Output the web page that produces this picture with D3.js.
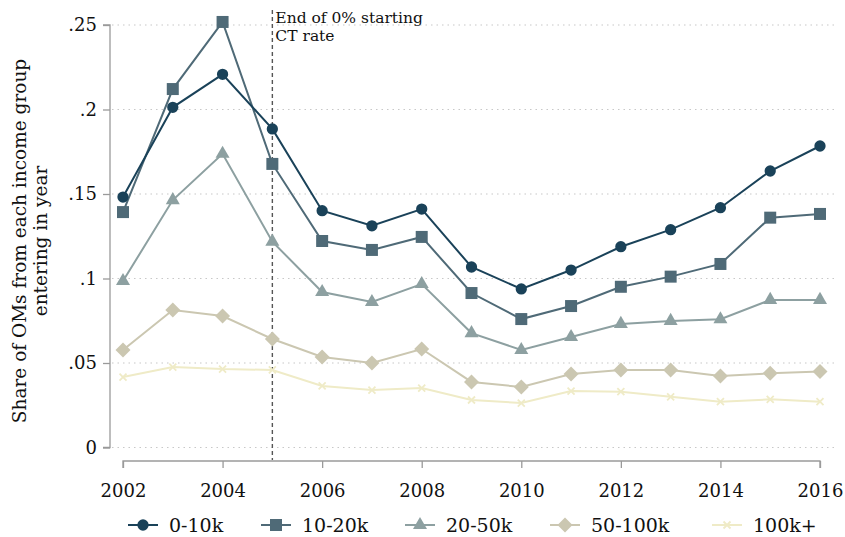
<!DOCTYPE html>
<html>
<head>
<meta charset="utf-8">
<script src="https://cdn.jsdelivr.net/npm/d3@7"></script>
<style>
  html, body { margin: 0; padding: 0; background: #fff; }
  svg { display: block; font-family: "DejaVu Serif", serif; }
</style>
</head>
<body>
<svg id="chart" width="845" height="537"></svg>
<script>
// ---- Data ----
const years = [2002, 2003, 2004, 2005, 2006, 2007, 2008, 2009, 2010, 2011, 2012, 2013, 2014, 2015, 2016];
const seriesNames = ["0-10k", "10-20k", "20-50k", "50-100k", "100k+"];
const inc0_10k    = [0.1482, 0.2013, 0.2208, 0.1885, 0.1401, 0.1312, 0.1411, 0.1068, 0.0938, 0.1050, 0.1188, 0.1289, 0.1419, 0.1636, 0.1784];
const inc10_20k   = [0.1393, 0.2121, 0.2518, 0.1678, 0.1222, 0.1169, 0.1246, 0.0914, 0.0760, 0.0837, 0.0951, 0.1011, 0.1086, 0.1360, 0.1382];
const inc20_50k   = [0.0985, 0.1464, 0.1738, 0.1218, 0.0920, 0.0861, 0.0967, 0.0677, 0.0577, 0.0654, 0.0731, 0.0749, 0.0759, 0.0873, 0.0873];
const inc50_100k  = [0.0577, 0.0814, 0.0778, 0.0642, 0.0536, 0.0500, 0.0583, 0.0388, 0.0358, 0.0435, 0.0459, 0.0459, 0.0423, 0.0439, 0.0449];
const inc100kplus = [0.0417, 0.0476, 0.0464, 0.0459, 0.0364, 0.0340, 0.0352, 0.0281, 0.0263, 0.0334, 0.0330, 0.0300, 0.0271, 0.0285, 0.0271];
const yTicks = [0, 0.05, 0.10, 0.15, 0.20, 0.25];
const yTickLabels = ["0", ".05", ".1", ".15", ".2", ".25"];
const xTicks = [2002, 2004, 2006, 2008, 2010, 2012, 2014, 2016];
const eventYear = 2005;
const annotation = ["End of 0% starting", "CT rate"];
const yTitle = ["Share of OMs from each income group", "entering in year"];

const colors = ["#1a4259", "#4f6a77", "#8da0a1", "#cbc7b1", "#efebc7"];
const shapes = ["circle", "square", "triangle", "diamond", "x"];
const allValues = [inc0_10k, inc10_20k, inc20_50k, inc50_100k, inc100kplus];
const series = seriesNames.map((name, i) => ({
  name, color: colors[i], shape: shapes[i],
  values: years.map((yr, j) => ({ year: yr, value: allValues[i][j] }))
}));

// ---- Layout ----
const svg = d3.select("#chart");
const x = d3.scaleLinear().domain([2002, 2016]).range([123, 820]);
const y = d3.scaleLinear().domain([0, 0.25]).range([447.5, 25]);
const plotLeft = 110, plotRight = 834;

// gridlines
svg.append("g").selectAll("line").data(yTicks).join("line")
  .attr("x1", plotLeft + 2).attr("x2", plotRight)
  .attr("y1", d => y(d)).attr("y2", d => y(d))
  .attr("stroke", "#c8c8c8").attr("stroke-width", 1.2)
  .attr("stroke-dasharray", "1.5,4");

// y axis
const yAxis = d3.axisLeft(y).tickValues(yTicks)
  .tickFormat((d, i) => yTickLabels[i]).tickSize(7).tickPadding(6);
const gy = svg.append("g").attr("transform", `translate(${plotLeft},0)`).call(yAxis);
gy.select(".domain").attr("stroke", "#9a9a9a").attr("stroke-width", 1.3)
  .attr("d", `M-7,${y(0.25)}H0V${y(0)}H-7`);
gy.selectAll(".tick line").attr("stroke", "#9a9a9a").attr("stroke-width", 1.3);
gy.selectAll(".tick text").attr("font-size", 18).attr("fill", "#111")
  .attr("font-family", "DejaVu Serif, serif");

// x axis
const xAxis = d3.axisBottom(x).tickValues(xTicks).tickFormat(d3.format("d"))
  .tickSize(7).tickPadding(16);
const gx = svg.append("g").attr("transform", `translate(0,461)`).call(xAxis);
gx.select(".domain").attr("stroke", "#9a9a9a").attr("stroke-width", 1.3)
  .attr("d", `M${x(2002)},7V0H${x(2016)}V7`);
gx.selectAll(".tick line").attr("stroke", "#9a9a9a").attr("stroke-width", 1.3);
gx.selectAll(".tick text").attr("font-size", 18).attr("fill", "#111")
  .attr("font-family", "DejaVu Serif, serif");

// y title
const yt = svg.append("text")
  .attr("transform", `translate(26,241) rotate(-90)`)
  .attr("text-anchor", "middle").attr("font-size", 18.5).attr("fill", "#111");
yt.append("tspan").attr("x", 0).attr("dy", 0).text(yTitle[0]);
yt.append("tspan").attr("x", 0).attr("dy", 21).text(yTitle[1]);

// event line
svg.append("line")
  .attr("x1", x(eventYear)).attr("x2", x(eventYear))
  .attr("y1", 10).attr("y2", 460)
  .attr("stroke", "#555").attr("stroke-width", 1.4).attr("stroke-dasharray", "4,3");
annotation.forEach((t, i) => {
  svg.append("text").attr("font-size", 15.5).attr("fill", "#111")
    .attr("x", x(eventYear) + 3).attr("y", 23 + i * 18).text(t);
});

// symbol generator
function symbolPath(shape) {
  switch (shape) {
    case "circle": return d3.symbol(d3.symbolCircle, 100)();
    case "square": return d3.symbol(d3.symbolSquare, 144)();
    case "triangle": return d3.symbol(d3.symbolTriangle, 85)();
    case "diamond": return "M0,-7.5L7.5,0L0,7.5L-7.5,0Z";
    case "x": return "M-3.5,-3.5L3.5,3.5M-3.5,3.5L3.5,-3.5";
  }
}

const line = d3.line().x(d => x(d.year)).y(d => y(d.value));

// draw series in reverse so darker on top
const sg = svg.append("g");
series.slice().reverse().forEach(s => {
  const g = sg.append("g");
  g.append("path").datum(s.values).attr("d", line)
    .attr("fill", "none").attr("stroke", s.color).attr("stroke-width", 2);
  g.selectAll("path.m").data(s.values).join("path").attr("class", "m")
    .attr("transform", d => `translate(${x(d.year)},${y(d.value)})`)
    .attr("d", symbolPath(s.shape))
    .attr("fill", s.shape === "x" ? "none" : s.color)
    .attr("stroke", s.color)
    .attr("stroke-width", s.shape === "x" ? 1.8 : 0);
});

// legend
const legendX = [128, 261, 405, 550, 712];
const legendY = 525;
const lg = svg.append("g");
series.forEach((s, i) => {
  const g = lg.append("g").attr("transform", `translate(${legendX[i]},${legendY})`);
  g.append("line").attr("x1", 0).attr("x2", 30).attr("y1", 0).attr("y2", 0)
    .attr("stroke", s.color).attr("stroke-width", 2);
  g.append("path").attr("transform", "translate(15,0)")
    .attr("d", symbolPath(s.shape))
    .attr("fill", s.shape === "x" ? "none" : s.color)
    .attr("stroke", s.color).attr("stroke-width", s.shape === "x" ? 1.8 : 0);
  g.append("text").attr("x", 41).attr("y", 6.5).attr("font-size", 19)
    .attr("fill", "#111").text(s.name);
});
</script>
</body>
</html>
